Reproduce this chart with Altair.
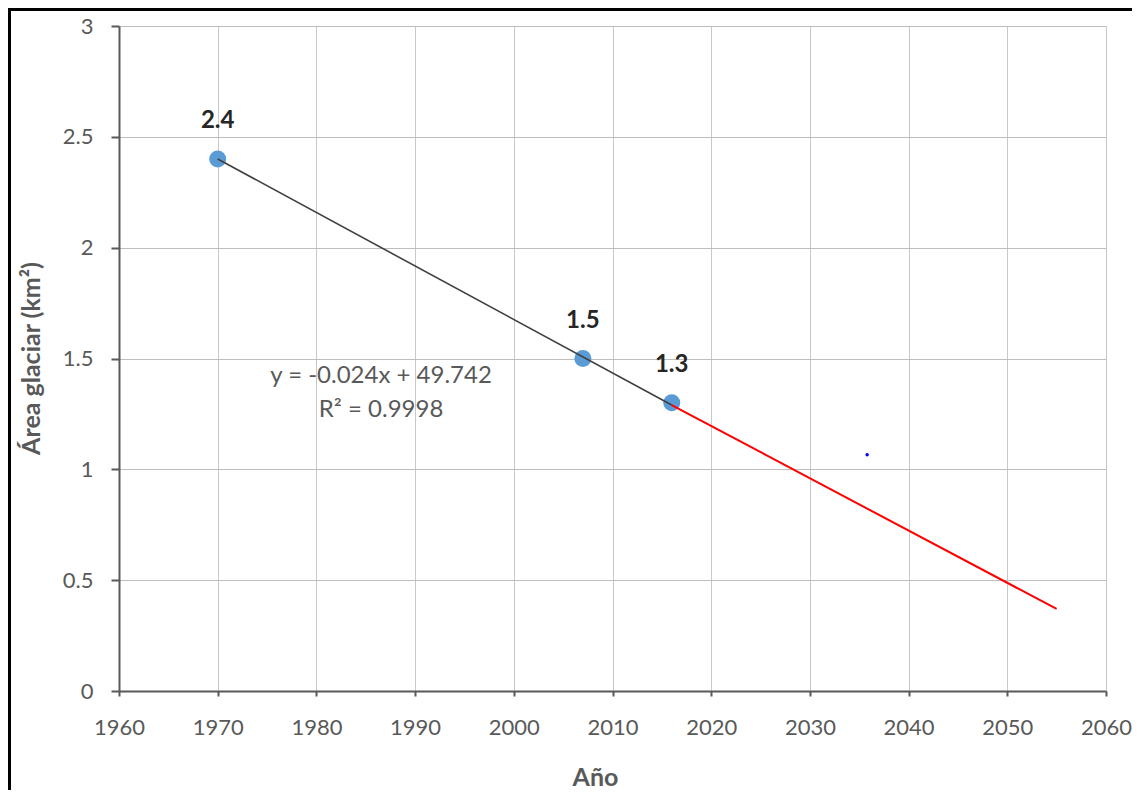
import altair as alt
import pandas as pd

# Observed points
years = [1970, 2007, 2016]
area = [2.4, 1.5, 1.3]
point_labels = ["2.4", "1.5", "1.3"]

# Trend line (fitted, black) and projection (red)
trend_x = [1970, 2016]
trend_y = [2.40, 1.29]
proj_x = [2016, 2055]
proj_y = [1.29, 0.37]

# Stray small blue dot
dot_x = [2035.8]
dot_y = [1.066]

# Equation annotation
eq_text = ["y = -0.024x  + 49.742", "R² = 0.9998"]
eq_x = [1986.55, 1986.55]
eq_y = [1.421, 1.267]

x_ticks = [1960, 1970, 1980, 1990, 2000, 2010, 2020, 2030, 2040, 2050, 2060]
y_ticks = [0, 0.5, 1, 1.5, 2, 2.5, 3]

FONT = "Lato"

pts = pd.DataFrame({"year": years, "area": area, "label": point_labels})
trend = pd.DataFrame({"year": trend_x, "area": trend_y})
proj = pd.DataFrame({"year": proj_x, "area": proj_y})
dot = pd.DataFrame({"year": dot_x, "area": dot_y})
eq = pd.DataFrame({"year": eq_x, "area": eq_y, "text": eq_text})
frame = pd.DataFrame({"a": [0]})

xscale = alt.Scale(domain=[1960, 2060], nice=False, zero=False)
yscale = alt.Scale(domain=[0, 3], nice=False)

xaxis = alt.Axis(
    values=x_ticks, format="d", title="Año",
    labelFontSize=22, labelColor="#595959", labelFont=FONT, labelPadding=21,
    labelFlush=False, labelOverlap=False,
    tickSize=5, tickColor="#595959", tickWidth=2,
    domainColor="#595959", domainWidth=2,
    grid=True, gridColor="#c8c8c8", gridWidth=1,
    titleFont=FONT, titleFontSize=25, titleFontWeight="bold", titleColor="#595959",
    titleX=476, titleY=86, titleBaseline="middle", titleAlign="center",
)
yaxis = alt.Axis(
    values=y_ticks, format="~g", title="Área glaciar (km²)",
    labelFontSize=22, labelColor="#595959", labelFont=FONT, labelPadding=18,
    labelFlush=False, labelOverlap=False,
    tickSize=8, tickColor="#595959", tickWidth=2,
    domainColor="#595959", domainWidth=2,
    grid=True, gridColor="#bdbdbd", gridWidth=1,
    titleFont=FONT, titleFontSize=25, titleFontWeight="bold", titleColor="#595959",
    titleX=-88, titleY=332, titleAngle=270, titleBaseline="middle", titleAlign="center",
)

base_pts = alt.Chart(pts).encode(
    x=alt.X("year:Q", scale=xscale, axis=xaxis),
    y=alt.Y("area:Q", scale=yscale, axis=yaxis),
)

points = base_pts.mark_circle(size=290, color="#5b9bd5", opacity=1)
labels = base_pts.mark_text(
    dy=-38, font=FONT, fontSize=24, fontWeight="bold", color="#262626"
).encode(text="label:N")

trend_line = alt.Chart(trend).mark_line(color="#404040", strokeWidth=1.6).encode(
    x=alt.X("year:Q", scale=xscale), y=alt.Y("area:Q", scale=yscale)
)
proj_line = alt.Chart(proj).mark_line(color="#ff0000", strokeWidth=2).encode(
    x=alt.X("year:Q", scale=xscale), y=alt.Y("area:Q", scale=yscale)
)
blue_dot = alt.Chart(dot).mark_circle(size=12, color="#0000ff", opacity=1).encode(
    x=alt.X("year:Q", scale=xscale), y=alt.Y("area:Q", scale=yscale)
)
eq_text_mark = alt.Chart(eq).mark_text(
    font=FONT, fontSize=24, color="#595959"
).encode(
    x=alt.X("year:Q", scale=xscale), y=alt.Y("area:Q", scale=yscale), text="text:N"
)

border = alt.Chart(frame).mark_rect(
    filled=False, stroke="black", strokeWidth=3, clip=False
).encode(
    x=alt.value(-109.5), x2=alt.value(1040),
    y=alt.value(-16.5), y2=alt.value(800),
)

chart = alt.layer(
    points, trend_line, proj_line, labels, blue_dot, eq_text_mark, border
).properties(
    width=987, height=665,
    autosize=alt.AutoSizeParams(type="none"),
    padding={"left": 111, "top": 18, "right": 26, "bottom": 99},
    background="white",
).configure_view(stroke=None)

chart.save("out.html", embed_options={"renderer": "svg", "actions": False})
